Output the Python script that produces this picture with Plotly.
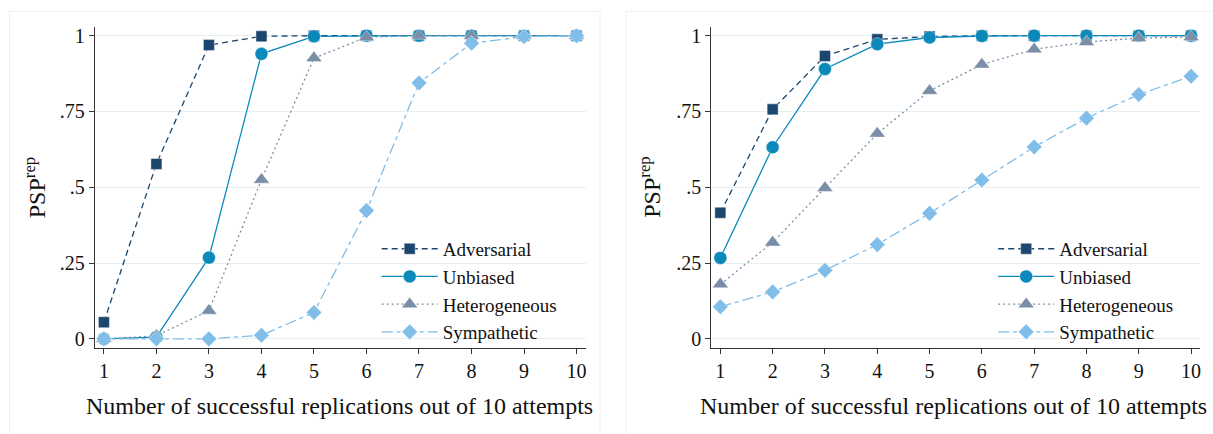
import plotly.graph_objects as go

attempts = [1, 2, 3, 4, 5, 6, 7, 8, 9, 10]
series_names = ["Adversarial", "Unbiased", "Heterogeneous", "Sympathetic"]

left_adversarial = [0.055, 0.577, 0.969, 0.998, 1.0, 1.0, 1.0, 1.0, 1.0, 1.0]
left_unbiased = [0.0, 0.006, 0.268, 0.940, 0.998, 1.0, 1.0, 1.0, 1.0, 1.0]
left_heterogeneous = [0.0, 0.010, 0.093, 0.525, 0.926, 0.995, 1.0, 1.0, 1.0, 1.0]
left_sympathetic = [0.0, 0.0, 0.0, 0.012, 0.087, 0.423, 0.844, 0.975, 0.997, 1.0]

right_adversarial = [0.416, 0.757, 0.933, 0.988, 0.997, 1.0, 1.0, 1.0, 1.0, 1.0]
right_unbiased = [0.267, 0.632, 0.890, 0.972, 0.994, 0.999, 1.0, 1.0, 1.0, 1.0]
right_heterogeneous = [0.180, 0.318, 0.498, 0.677, 0.818, 0.905, 0.955, 0.979, 0.992, 0.996]
right_sympathetic = [0.106, 0.155, 0.226, 0.311, 0.414, 0.524, 0.633, 0.728, 0.806, 0.866]

y_ticks = [0, 0.25, 0.5, 0.75, 1]
y_ticklabels = ["0", ".25", ".5", ".75", "1"]
x_title = "Number of successful replications out of 10 attempts"
y_title = "PSP<sup>rep</sup>"

colors = ["#1b476e", "#0a89ba", "#7b8ea7", "#80bde9"]
dashes = ["6px,4px", "solid", "2px,3px", "11px,4px,4px,4px"]
symbols = ["square", "circle", "triangle-up", "diamond"]
msizes = [11, 13, 14, 12]

FONT = "Liberation Serif, Times New Roman, serif"
W, H = 1213, 434

fig = go.Figure()

panels = [
    ([left_adversarial, left_unbiased, left_heterogeneous, left_sympathetic], "x", "y"),
    ([right_adversarial, right_unbiased, right_heterogeneous, right_sympathetic], "x2", "y2"),
]

def marker(i):
    return dict(symbol=symbols[i], size=msizes[i], color=colors[i],
                line=dict(color="rgba(255,255,255,0.7)", width=0.6))

for data, xa, ya in panels:
    for i, name in enumerate(series_names):
        fig.add_trace(go.Scatter(
            x=attempts, y=data[i], name=name, xaxis=xa, yaxis=ya,
            mode="lines+markers", showlegend=False,
            line=dict(color=colors[i], width=1.3, dash=dashes[i]),
            marker=marker(i),
        ))

for leg, xa, ya in [("legend", "x", "y"), ("legend2", "x2", "y2")]:
    for i, name in enumerate(series_names):
        fig.add_trace(go.Scatter(
            x=[None], y=[None], name=name, xaxis=xa, yaxis=ya,
            mode="lines+markers", legend=leg, showlegend=True,
            line=dict(color=colors[i], width=1.3, dash=dashes[i]),
            marker=marker(i),
        ))

def px_x(p):
    return p / W

def px_y(p):
    return 1 - p / H

xr = [0.829, 10.171]
yr = [-0.0294, 1.0294]

axis_common = dict(
    showline=True, linecolor="#333333", linewidth=1.2, mirror=False,
    ticks="outside", ticklen=5, tickwidth=1, tickcolor="#333333",
    zeroline=False,
    tickfont=dict(family=FONT, size=20, color="#111111"),
)

legend_common = dict(xanchor="left", yanchor="top", bgcolor="rgba(0,0,0,0)",
                     font=dict(family=FONT, size=19, color="#111111"),
                     itemwidth=56, tracegroupgap=0)

fig.update_layout(
    width=W, height=H,
    margin=dict(l=0, r=0, t=0, b=0),
    paper_bgcolor="white", plot_bgcolor="white",
    font=dict(family=FONT, color="#111111"),
    xaxis=dict(domain=[px_x(95), px_x(586)], range=xr, tickmode="array",
               tickvals=attempts, ticktext=[str(a) for a in attempts],
               showgrid=False, anchor="y", **axis_common),
    yaxis=dict(domain=[px_y(349), px_y(25)], range=yr, tickmode="array",
               tickvals=y_ticks, ticktext=y_ticklabels,
               showgrid=True, gridcolor="#e6eff1", gridwidth=1.2, anchor="x",
               **axis_common),
    xaxis2=dict(domain=[px_x(712), px_x(1201)], range=xr, tickmode="array",
                tickvals=attempts, ticktext=[str(a) for a in attempts],
                showgrid=False, anchor="y2", **axis_common),
    yaxis2=dict(domain=[px_y(349), px_y(25)], range=yr, tickmode="array",
                tickvals=y_ticks, ticktext=y_ticklabels,
                showgrid=True, gridcolor="#e6eff1", gridwidth=1.2, anchor="x2",
                **axis_common),
    legend=dict(x=px_x(377), y=px_y(230), **legend_common),
    legend2=dict(x=px_x(994), y=px_y(230), **legend_common),
    shapes=[
        dict(type="rect", xref="paper", yref="paper", x0=px_x(9.5), x1=px_x(600.5),
             y0=px_y(450), y1=px_y(9.5), line=dict(color="#edf1f2", width=1)),
        dict(type="rect", xref="paper", yref="paper", x0=px_x(626.5), x1=px_x(1230),
             y0=px_y(450), y1=px_y(9.5), line=dict(color="#edf1f2", width=1)),
    ],
    annotations=[
        dict(text=x_title, xref="paper", yref="paper", x=px_x(340), y=px_y(408),
             xanchor="center", yanchor="middle", showarrow=False,
             font=dict(family=FONT, size=24, color="#111111")),
        dict(text=x_title, xref="paper", yref="paper", x=px_x(954), y=px_y(408),
             xanchor="center", yanchor="middle", showarrow=False,
             font=dict(family=FONT, size=24, color="#111111")),
        dict(text=y_title, xref="paper", yref="paper", x=px_x(35), y=px_y(187),
             xanchor="center", yanchor="middle", showarrow=False, textangle=-90,
             font=dict(family=FONT, size=24, color="#111111")),
        dict(text=y_title, xref="paper", yref="paper", x=px_x(651), y=px_y(187),
             xanchor="center", yanchor="middle", showarrow=False, textangle=-90,
             font=dict(family=FONT, size=24, color="#111111")),
    ],
)

fig.write_html(
    "out.html",
    config={"displayModeBar": False},
    post_script="document.body.style.margin='0';"
                "document.documentElement.style.overflow='hidden';"
                "document.body.style.overflow='hidden';",
)
